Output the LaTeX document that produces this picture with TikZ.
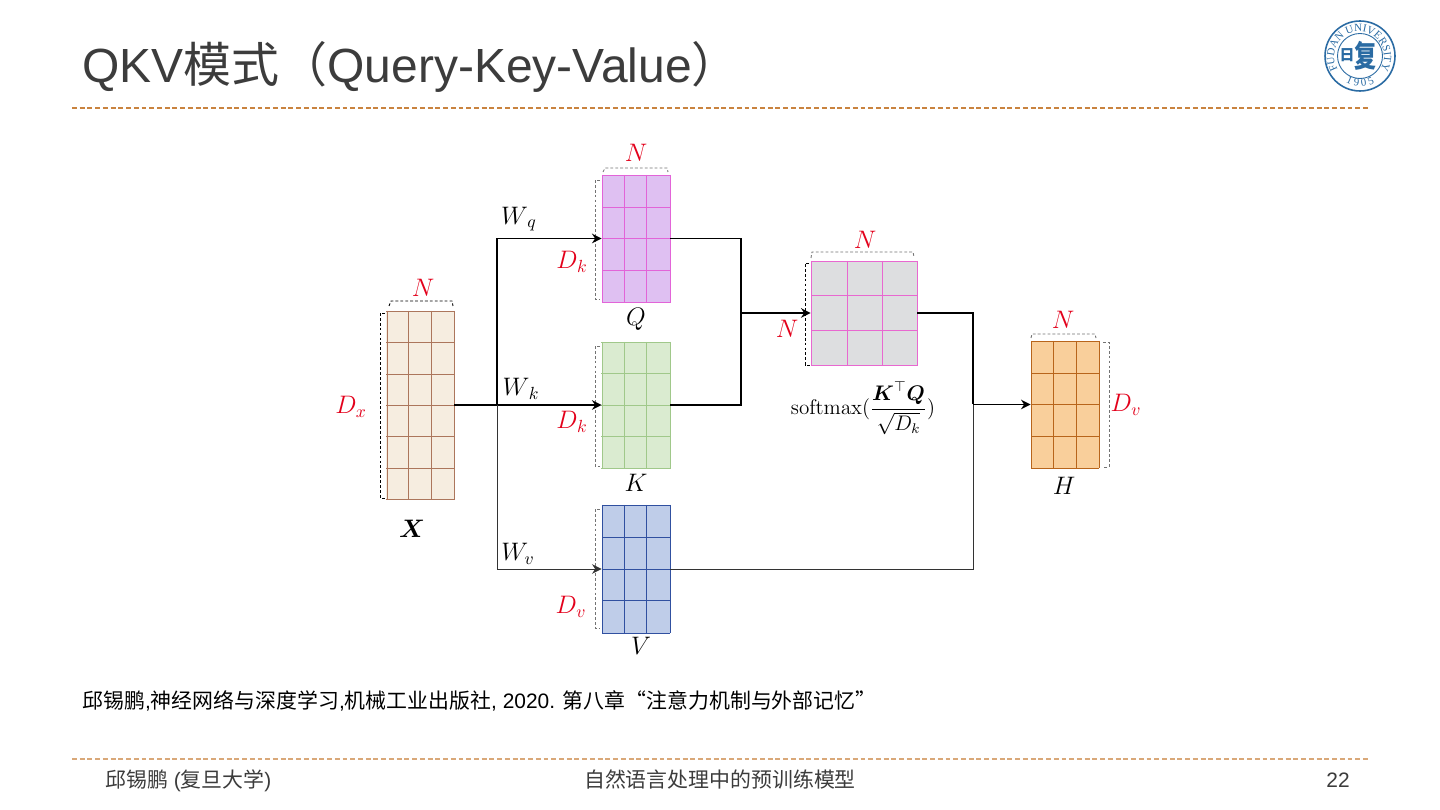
\documentclass[tikz,border=0pt]{standalone}
\usepackage{amsmath}
\usepackage[no-math]{fontspec}
\setmainfont{Liberation Sans}
\newfontfamily\cjk{Noto Sans CJK SC}
\newfontfamily\sealfont{Liberation Serif}
\usepackage{xcolor}
\definecolor{myred}{HTML}{E3001B}
\definecolor{mytext}{HTML}{3C3C3C}
\definecolor{myrule}{HTML}{C9833F}
\definecolor{myseal}{HTML}{2A6BA3}
\usetikzlibrary{arrows.meta}
\usetikzlibrary{decorations.text}
\tikzset{
  wire/.style={line width=0.9pt},
  thinwire/.style={line width=0.5pt, draw=black!80},
  tip/.style={-{Stealth[length=5.5pt,width=5.5pt,inset=1.8pt]}},
  brace/.style={dashed, line width=0.5pt, dash pattern=on 1.6pt off 1.2pt, draw=black!55},
  blackbrace/.style={brace, draw=black},
  rule/.style={dashed, dash pattern=on 2.8pt off 1.6pt, line width=0.6pt, draw=myrule},
  label/.style={font=\fontsize{13.6}{16}\selectfont, inner sep=0pt},
  dim/.style={label, text=myred},
  box/.style={inner sep=0pt, minimum width=1.36cm},
}
\begin{document}
\begin{tikzpicture}[x=0.02cm, y=-0.02cm]
        \useasboundingbox (0,0) rectangle (1440,810);
        \fill[white] (0,0) rectangle (1440,810);

        % header and footer
        \node[anchor=base west, inner sep=0pt, text=mytext, font=\fontsize{27.3}{30}\selectfont] (title) at (82,83) {QKV{\cjk 模式（}Query-Key-Value{\cjk ）}};
        \draw[rule] (72,108) -- (1368,108);
        \draw[rule, draw=myrule!70] (72,759) -- (1368,759);
        \node[anchor=base west, inner sep=0pt, font=\fontsize{11.9}{14}\selectfont] (cite) at (82,708) {{\cjk 邱锡鹏}{,}{\cjk 神经网络与深度学习}{,}{\cjk 机械工业出版社}, 2020. {\cjk 第八章}{\cjk “注意力机制与外部记忆”}};
        \node[anchor=base west, inner sep=0pt, text=mytext, font=\fontsize{11.9}{14}\selectfont] (author) at (105,787) {{\cjk 邱锡鹏} ({\cjk 复旦大学})};
        \node[anchor=base, inner sep=0pt, text=mytext, font=\fontsize{11.9}{14}\selectfont] (talk) at (720,787) {\cjk 自然语言处理中的预训练模型};
        \node[anchor=base east, inner sep=0pt, text=mytext, font=\fontsize{11.9}{14}\selectfont] (page) at (1350,787) {22};

        % seal
        \begin{scope}[shift={(1360,56)}, x=1cm, y=1cm]
          \draw[myseal, line width=0.9pt] (0,0) circle [radius=0.70cm];
          \draw[myseal, line width=0.5pt] (0,0) circle [radius=0.45cm];
          \path[decorate, decoration={text along path, text align=center, text color=myseal,
            text={|\fontsize{6.2}{7}\sealfont|FUDAN UNIVERSITY}}]
            (-0.46,-0.25) arc [start angle=208, end angle=-28, radius=0.50];
          \path[decorate, decoration={text along path, text align=center, text color=myseal,
            text={|\fontsize{6.2}{7}\sealfont|1 9 0 5}}]
            (-0.43,-0.43) arc [start angle=225, end angle=315, radius=0.61];
          \node[inner sep=0pt, text=myseal, font=\fontsize{8.5}{9}\cjk\bfseries] (sealsun) at (-0.26,0.02) {日};
          \node[inner sep=0pt, text=myseal, font=\fontsize{12.5}{13}\cjk\bfseries, yscale=1.4, transform shape] (sealfu) at (0.11,0) {复};
        \end{scope}

        % matrices
        \node[box, minimum height=3.76cm, fill={rgb,255:red,246;green,237;blue,224}] (X) at (420,405) {};
        \node[box, minimum height=2.54cm, fill={rgb,255:red,223;green,192;blue,242}] (Q) at (636,238.5) {};
        \node[box, minimum height=2.52cm, fill={rgb,255:red,218;green,235;blue,208}] (K) at (636,405) {};
        \node[box, minimum height=2.56cm, fill={rgb,255:red,191;green,205;blue,233}] (V) at (636,569) {};
        \node[box, minimum width=2.12cm, minimum height=2.10cm, fill={rgb,255:red,221;green,222;blue,224}] (A) at (864,313) {};
        \node[box, minimum height=2.54cm, fill={rgb,255:red,249;green,207;blue,155}] (H) at (1065,404.5) {};

        % grids
        \begin{scope}[line width=0.55pt, draw={rgb,255:red,172;green,118;blue,92}]
          \foreach \x in {387,408,431,454} \draw (\x,311) -- (\x,500);
          \foreach \y in {311,342,374,405,436,468,499} \draw (386,\y) -- (454,\y);
        \end{scope}
        \begin{scope}[line width=0.55pt, draw={rgb,255:red,226;green,100;blue,216}]
          \foreach \x in {602,624.5,646.5,670} \draw (\x,175) -- (\x,303);
          \foreach \y in {175,207,238,270,302} \draw (602,\y) -- (670,\y);
        \end{scope}
        \begin{scope}[line width=0.55pt, draw={rgb,255:red,160;green,200;blue,138}]
          \foreach \x in {602,624.5,646.5,670} \draw (\x,342) -- (\x,468);
          \foreach \y in {342,373,405,436,468} \draw (601,\y) -- (671,\y);
        \end{scope}
        \begin{scope}[line width=0.55pt, draw={rgb,255:red,48;green,80;blue,160}]
          \foreach \x in {602,624.5,646.5,670} \draw (\x,505) -- (\x,633);
          \foreach \y in {505,537,569,600,633} \draw (602,\y) -- (670,\y);
        \end{scope}
        \begin{scope}[line width=0.55pt, draw={rgb,255:red,232;green,104;blue,208}]
          \foreach \x in {811,847,882,917} \draw (\x,261) -- (\x,366);
          \foreach \y in {261,295,330,365} \draw (811,\y) -- (918,\y);
        \end{scope}
        \begin{scope}[line width=0.55pt, draw={rgb,255:red,184;green,101;blue,27}]
          \foreach \x in {1031,1053,1076,1099} \draw (\x,341) -- (\x,468);
          \foreach \y in {341,373,404,436,468} \draw (1031,\y) -- (1099,\y);
        \end{scope}

        % size marks
        \draw[blackbrace] (389,306) -- (391,301) -- (452,301) -- (453,306);
        \draw[blackbrace] (385,313) -- (380,313) -- (380,498) -- (385,498);
        \draw[brace] (603,172) -- (605,168) -- (667,168) -- (668,172);
        \draw[brace] (600,180) -- (595,180) -- (595,299) -- (600,299);
        \draw[brace] (600,346) -- (595,346) -- (595,466) -- (600,466);
        \draw[brace] (600,509) -- (595,509) -- (595,628) -- (600,628);
        \draw[brace] (811,258) -- (812,252) -- (913,252) -- (914,257);
        \draw[blackbrace] (809,263) -- (805,263) -- (805,365) -- (810,365);
        \draw[brace] (1031,338) -- (1032,334) -- (1095,334) -- (1096,338);
        \draw[brace] (1103,342) -- (1109,342) -- (1109,467) -- (1103,467);

        % connectors
        \coordinate (split) at (497,405);
        \coordinate (merge) at (741,313);
        \coordinate (join) at (973,404.5);
        \draw[wire, line width=1.1pt] (X.east) -- (split);
        \draw[wire, tip] (split) |- (Q.west);
        \draw[wire, tip] (split) -- (K.west);
        \draw[thinwire, tip] (split) |- (V.west);
        \draw[wire] (Q.east) -| (merge);
        \draw[wire] (K.east) -| (merge);
        \draw[wire, tip] (merge) -- (A.west);
        \draw[wire] (A.east) -| (join);
        \draw[thinwire] (V.east) -| (join);
        \draw[wire, tip] (join) -- (H.west);

        % labels
        \node[label] (Wq) at (519,219) {\(W_{\,q}\)};
        \node[label] (Wk) at (521,389) {\(W_{\,k}\)};
        \node[label] (Wv) at (518,554) {\(W_{v}\)};
        \node[label] (Xname) at (412,529) {\(\boldsymbol{X}\)};
        \node[label] (Qname) at (636,319) {\(Q\)};
        \node[label] (Kname) at (636,483) {\(K\)};
        \node[label] (Vname) at (641,646) {\(V\)};
        \node[label] (Hname) at (1064,486) {\(H\)};
        \node[dim] (Nx) at (423,288) {\(N\)};
        \node[dim] (Nq) at (636,153) {\(N\)};
        \node[dim] (Na) at (865,240) {\(N\)};
        \node[dim] (Nl) at (787,329) {\(N\)};
        \node[dim] (Nh) at (1063,320) {\(N\)};
        \node[dim] (Dx) at (351,407) {\(D_x\)};
        \node[dim] (Dq) at (572,262) {\(D_k\)};
        \node[dim] (Dk) at (572,422) {\(D_k\)};
        \node[dim] (Dv) at (571,607) {\(D_v\)};
        \node[dim] (Dh) at (1126,405) {\(D_v\)};
        \node[label, font=\fontsize{12}{14}\selectfont] (score) at (863,408) {\(\mathrm{softmax}(\dfrac{\boldsymbol{K}^{\top}\boldsymbol{Q}}{\sqrt{D_k}})\)};
      \end{tikzpicture}
\end{document}
